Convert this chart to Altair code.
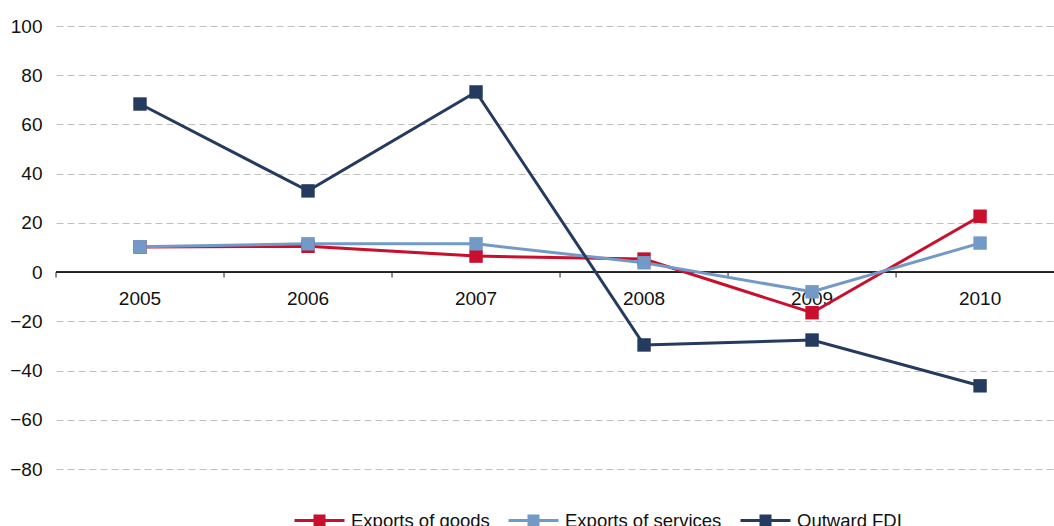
import altair as alt
import pandas as pd

years = [2005, 2006, 2007, 2008, 2009, 2010]
goods = [10.2, 10.5, 6.5, 5.3, -16.5, 22.7]
services = [10.3, 11.5, 11.5, 3.8, -8.0, 11.8]
fdi = [68.3, 33.0, 73.2, -29.6, -27.6, -46.2]
series = ["Exports of goods", "Exports of services", "Outward FDI"]
colors = ["#C8102E", "#7399C6", "#243A5E"]
y_ticks = [-80, -60, -40, -20, 0, 20, 40, 60, 80, 100]
boundaries = [2004.5, 2005.5, 2006.5, 2007.5, 2008.5, 2009.5]

W, H = 998, 443
FONT = "Liberation Sans"
FS = 19
LFS = 18.5

rows = []
for name, vals in zip(series, [goods, services, fdi]):
    for yr, v in zip(years, vals):
        rows.append({"year": yr, "value": v, "series": name})
df = pd.DataFrame(rows)
df_years = pd.DataFrame({"year": years})
df_bounds = pd.DataFrame({"b": boundaries})

xscale = alt.Scale(domain=[2004.5, 2010.44], nice=False, zero=False)
yscale = alt.Scale(domain=[-80, 100], nice=False)
cscale = alt.Scale(domain=series, range=colors)

yaxis = alt.Axis(values=y_ticks, grid=True, gridColor="#BFBFBF", gridDash=[7, 4],
                 gridWidth=1, domain=False, ticks=False, labelFont=FONT,
                 labelFontSize=FS, labelColor="#111111", labelPadding=14, title=None)

legend_path = ("M-1,0H1 M-0.24,-0.18H0.24 M-0.24,-0.06H0.24 "
               "M-0.24,0.06H0.24 M-0.24,0.18H0.24")

lines = alt.Chart(df).mark_line(strokeWidth=3).encode(
    x=alt.X("year:Q", scale=xscale, axis=None),
    y=alt.Y("value:Q", scale=yscale, axis=yaxis),
    color=alt.Color("series:N", scale=cscale, sort=series,
                    legend=alt.Legend(title=None, orient="none", direction="horizontal",
                                      legendX=237, legendY=468,
                                      symbolType=legend_path, symbolSize=2500,
                                      symbolStrokeWidth=3, labelFont=FONT,
                                      labelFontSize=LFS, labelColor="#111111",
                                      labelOffset=5, columnPadding=12, labelLimit=400)),
    detail="series:N",
)

points = alt.Chart(df).mark_point(shape="square", filled=True, size=180, opacity=1).encode(
    x=alt.X("year:Q", scale=xscale, axis=None),
    y=alt.Y("value:Q", scale=yscale),
    color=alt.Color("series:N", scale=cscale, legend=None),
)

zero = alt.Chart(df_years).mark_rule(color="#222222", strokeWidth=1).encode(
    x=alt.value(0), x2=alt.value(W), y=alt.datum(0)
)

ticks = alt.Chart(df_bounds).mark_rule(color="#222222", strokeWidth=1).encode(
    x=alt.X("b:Q", scale=xscale, axis=None),
    y=alt.datum(0), y2=alt.datum(-2.2),
)

labels = alt.Chart(df_years).mark_text(dy=27, font=FONT, fontSize=FS, color="#111111").encode(
    x=alt.X("year:Q", scale=xscale, axis=None),
    y=alt.datum(0),
    text=alt.Text("year:N"),
)

chart = alt.layer(zero, ticks, labels, lines, points).properties(
    width=W, height=H,
    autosize=alt.AutoSizeParams(type="none"),
    padding={"left": 56, "top": 26, "right": 0, "bottom": 57},
    background="white",
).configure_view(stroke=None)

chart.save("out.html", embed_options={"renderer": "svg", "actions": False})
